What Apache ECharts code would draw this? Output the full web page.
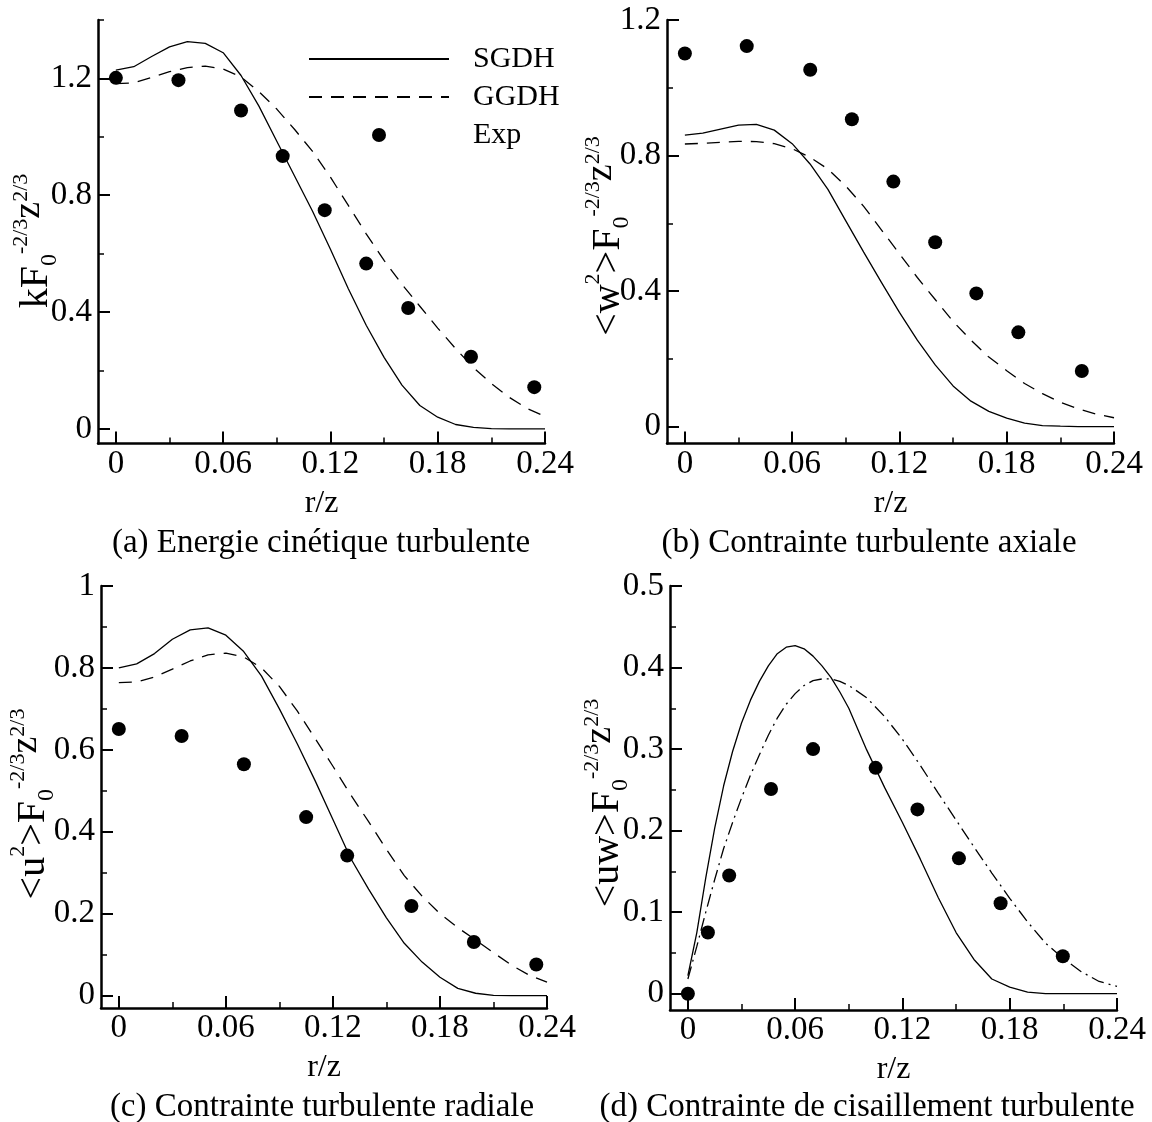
<!DOCTYPE html>
<html><head><meta charset="utf-8">
<script src="https://cdn.jsdelivr.net/npm/echarts@6/dist/echarts.min.js"></script>
<style>html,body{margin:0;padding:0;background:#fff}#c{width:1152px;height:1122px}</style>
</head><body><div id="c"></div>
<script>
const FONT = 'Liberation Serif';

// ---- tick values ----
const xTicks = [0, 0.06, 0.12, 0.18, 0.24];
const xMinor = [0.03, 0.09, 0.15, 0.21];
const yTicksA = [0, 0.4, 0.8, 1.2];
const yMinorA = [0.2, 0.6, 1.0, 1.4];
const yTicksB = [0, 0.4, 0.8, 1.2];
const yMinorB = [0.2, 0.6, 1.0];
const yTicksC = [0, 0.2, 0.4, 0.6, 0.8, 1];
const yMinorC = [0.1, 0.3, 0.5, 0.7, 0.9];
const yTicksD = [0, 0.1, 0.2, 0.3, 0.4, 0.5];
const yMinorD = [0.05, 0.15, 0.25, 0.35, 0.45];

// ---- data ----
const rCurve = [0, 0.01, 0.02, 0.03, 0.04, 0.05, 0.06, 0.07, 0.08, 0.09, 0.10, 0.11, 0.12,
                0.13, 0.14, 0.15, 0.16, 0.17, 0.18, 0.19, 0.20, 0.21, 0.22, 0.23, 0.24];

// (a) k
const kSGDH = [1.228, 1.24, 1.275, 1.308, 1.326, 1.32, 1.288, 1.21, 1.105, 0.985, 0.865, 0.745, 0.615,
               0.48, 0.355, 0.245, 0.15, 0.08, 0.04, 0.015, 0.005, 0.001, 0, 0, 0];
const kGGDH = [1.182, 1.185, 1.203, 1.223, 1.237, 1.242, 1.232, 1.205, 1.155, 1.095, 1.025, 0.95, 0.862,
               0.765, 0.668, 0.577, 0.495, 0.42, 0.345, 0.275, 0.21, 0.155, 0.108, 0.07, 0.043];
const kExpR = [0, 0.035, 0.070, 0.0933, 0.1168, 0.140, 0.1635, 0.1986, 0.234];
const kExp  = [1.202, 1.194, 1.090, 0.934, 0.749, 0.566, 0.414, 0.247, 0.143];

// (b) <w2>
const wSGDH = [0.86, 0.866, 0.878, 0.89, 0.892, 0.875, 0.835, 0.775, 0.70, 0.607, 0.515, 0.425, 0.337,
               0.255, 0.182, 0.12, 0.075, 0.045, 0.025, 0.01, 0.003, 0.001, 0, 0, 0];
const wGGDH = [0.834, 0.836, 0.839, 0.842, 0.841, 0.835, 0.82, 0.795, 0.76, 0.71, 0.65, 0.58, 0.51,
               0.44, 0.375, 0.31, 0.255, 0.205, 0.165, 0.127, 0.097, 0.072, 0.052, 0.037, 0.026];
const wExpR = [0, 0.0346, 0.0701, 0.0934, 0.1166, 0.140, 0.163, 0.1865, 0.222];
const wExp  = [1.101, 1.123, 1.053, 0.907, 0.723, 0.544, 0.393, 0.278, 0.164];

// (c) <u2>
const uSGDH = [0.80, 0.81, 0.835, 0.87, 0.893, 0.898, 0.88, 0.84, 0.78, 0.70, 0.615, 0.525, 0.43,
               0.335, 0.26, 0.19, 0.128, 0.082, 0.045, 0.018, 0.006, 0.001, 0, 0, 0];
const uGGDH = [0.764, 0.766, 0.778, 0.797, 0.817, 0.832, 0.836, 0.827, 0.80, 0.755, 0.695, 0.628, 0.56,
               0.49, 0.425, 0.357, 0.293, 0.243, 0.2, 0.166, 0.136, 0.105, 0.075, 0.05, 0.033];
const uExpR = [0, 0.0352, 0.0701, 0.105, 0.128, 0.164, 0.199, 0.234];
const uExp  = [0.651, 0.634, 0.565, 0.436, 0.342, 0.219, 0.131, 0.076];

// (d) <uw>
const rCurveD = [0, 0.005, 0.01, 0.015, 0.02, 0.025, 0.03, 0.035, 0.04, 0.045, 0.05, 0.055, 0.06,
                 0.065, 0.07, 0.075, 0.08, 0.085, 0.09, 0.10, 0.11, 0.12, 0.13, 0.14, 0.15, 0.16,
                 0.17, 0.18, 0.19, 0.20, 0.21, 0.22, 0.23, 0.24];
const uwSGDH = [0.022, 0.075, 0.142, 0.203, 0.255, 0.297, 0.332, 0.36, 0.383, 0.402, 0.417, 0.425, 0.427,
                0.423, 0.414, 0.402, 0.388, 0.37, 0.35, 0.299, 0.253, 0.21, 0.165, 0.118, 0.075, 0.042,
                0.018, 0.008, 0.002, 0, 0, 0, 0, 0];
const uwGGDH = [0.018, 0.058, 0.1, 0.14, 0.178, 0.21, 0.24, 0.268, 0.293, 0.317, 0.338, 0.355, 0.368,
                0.378, 0.384, 0.386, 0.386, 0.383, 0.378, 0.363, 0.34, 0.312, 0.28, 0.246, 0.213, 0.18,
                0.148, 0.117, 0.088, 0.062, 0.043, 0.027, 0.015, 0.009];
const uwExpR = [0, 0.0112, 0.0231, 0.0465, 0.07, 0.105, 0.1284, 0.1516, 0.1749, 0.2097];
const uwExp  = [0, 0.075, 0.145, 0.251, 0.300, 0.277, 0.226, 0.166, 0.111, 0.046];

const legendNames = ['SGDH', 'GGDH', 'Exp'];
const captions = ['(a) Energie cinétique turbulente', '(b) Contrainte turbulente axiale',
                  '(c) Contrainte turbulente radiale', '(d) Contrainte de cisaillement turbulente'];

// ---- layout ----
const grids = [
  {left: 98, top: 20, width: 447, height: 423.5},
  {left: 667, top: 20, width: 447, height: 423.5},
  {left: 101, top: 586, width: 446, height: 422},
  {left: 670, top: 586, width: 447, height: 424}
];
const yRanges = [[-0.05, 1.4], [-0.05, 1.2], [-0.03, 1], [-0.02, 0.5]];
const yMajor = [yTicksA, yTicksB, yTicksC, yTicksD];
const yMinor = [yMinorA, yMinorB, yMinorC, yMinorD];

const black = '#000';
const xAxis = [], yAxis = [];
grids.forEach((g, i) => {
  xAxis.push({
    gridIndex: i, type: 'value', position: 'bottom', min: -0.01, max: 0.24,
    axisLine: {show: true, onZero: false, lineStyle: {color: black, width: 2.5}},
    axisTick: {show: true, inside: true, length: 12, customValues: xTicks, lineStyle: {color: black, width: 2}},
    axisLabel: {customValues: xTicks, fontFamily: FONT, fontSize: 33, color: black, margin: 4,
                formatter: v => String(v)},
    splitLine: {show: false},
    name: 'r/z', nameLocation: 'middle', nameGap: 44,
    nameTextStyle: {fontFamily: FONT, fontSize: 32, color: black}
  });
  xAxis.push({
    gridIndex: i, type: 'value', position: 'bottom', min: -0.01, max: 0.24,
    axisLine: {show: false, onZero: false},
    axisTick: {show: true, inside: true, length: 6, customValues: xMinor, lineStyle: {color: black, width: 1.5}},
    axisLabel: {show: false}, splitLine: {show: false}
  });
  yAxis.push({
    gridIndex: i, type: 'value', position: 'left', min: yRanges[i][0], max: yRanges[i][1],
    axisLine: {show: true, onZero: false, lineStyle: {color: black, width: 2.5}},
    axisTick: {show: true, inside: true, length: 12, customValues: yMajor[i], lineStyle: {color: black, width: 2}},
    axisLabel: {customValues: yMajor[i], fontFamily: FONT, fontSize: 33, color: black, margin: 6,
                formatter: v => String(v)},
    splitLine: {show: false}
  });
  yAxis.push({
    gridIndex: i, type: 'value', position: 'left', min: yRanges[i][0], max: yRanges[i][1],
    axisLine: {show: false, onZero: false},
    axisTick: {show: true, inside: true, length: 6, customValues: yMinor[i], lineStyle: {color: black, width: 1.5}},
    axisLabel: {show: false}, splitLine: {show: false}
  });
});

const pairs = (xs, ys) => xs.map((x, k) => [x, ys[k]]);
const lineS = (name, gi, xs, ys, type) => ({
  name, type: 'line', xAxisIndex: 2 * gi, yAxisIndex: 2 * gi, data: pairs(xs, ys),
  symbol: 'none', showSymbol: false, smooth: false,
  lineStyle: {color: black, width: 1.3, type}, itemStyle: {color: black},
  animation: false, silent: true, z: 2
});
const expS = (gi, xs, ys) => ({
  name: 'Exp', type: 'scatter', xAxisIndex: 2 * gi, yAxisIndex: 2 * gi, data: pairs(xs, ys),
  symbol: 'circle', symbolSize: 14, itemStyle: {color: black, opacity: 1},
  animation: false, silent: true, z: 3
});
const DASH = [13, 9];
const DASHDOT = [13, 5, 2, 5];

const series = [
  lineS('SGDH', 0, rCurve, kSGDH, 'solid'),
  lineS('GGDH', 0, rCurve, kGGDH, DASH),
  expS(0, kExpR, kExp),
  lineS('SGDH', 1, rCurve, wSGDH, 'solid'),
  lineS('GGDH', 1, rCurve, wGGDH, DASH),
  expS(1, wExpR, wExp),
  lineS('SGDH', 2, rCurve, uSGDH, 'solid'),
  lineS('GGDH', 2, rCurve, uGGDH, DASH),
  expS(2, uExpR, uExp),
  lineS('SGDH', 3, rCurveD, uwSGDH, 'solid'),
  lineS('GGDH (d)', 3, rCurveD, uwGGDH, DASHDOT),
  expS(3, uwExpR, uwExp)
];

const rich = {
  b: {fontFamily: FONT, fontSize: 40, lineHeight: 52, verticalAlign: 'middle', color: black},
  sub: {fontFamily: FONT, fontSize: 24, lineHeight: 24, verticalAlign: 'bottom', color: black},
  sup: {fontFamily: FONT, fontSize: 22, lineHeight: 22, verticalAlign: 'top', color: black},
  z: {fontFamily: FONT, fontSize: 38, lineHeight: 44, verticalAlign: 'top', color: black}
};
const yNames = [
  '{b|kF}{sub|0}{sup|-2/3}{z|z}{sup|2/3}',
  '{b|<w}{sup|2}{b|>F}{sub|0}{sup|-2/3}{z|z}{sup|2/3}',
  '{b|<u}{sup|2}{b|>F}{sub|0}{sup|-2/3}{z|z}{sup|2/3}',
  '{b|<uw>F}{sub|0}{sup|-2/3}{z|z}{sup|2/3}'
];
const yNamePos = [[36, 241], [608, 236], [33, 804], [607, 803]];
const captionPos = [[321, 543], [869, 543], [322, 1107], [867, 1107]];

const graphic = [];
yNames.forEach((t, i) => graphic.push({
  type: 'text', x: yNamePos[i][0], y: yNamePos[i][1], rotation: Math.PI / 2, silent: true,
  style: {text: t, rich, align: 'center', verticalAlign: 'middle', fill: black}
}));
captions.forEach((t, i) => graphic.push({
  type: 'text', x: captionPos[i][0], y: captionPos[i][1], silent: true,
  style: {text: t, fontFamily: FONT, fontSize: 33, fill: black, align: 'center', verticalAlign: 'middle'}
}));

const chart = echarts.init(document.getElementById('c'), null, {renderer: 'canvas'});
chart.setOption({
  backgroundColor: '#fff',
  animation: false,
  grid: grids.map(g => Object.assign({containLabel: false}, g)),
  xAxis, yAxis, series, graphic,
  legend: {
    data: [
      {name: legendNames[0], itemStyle: {opacity: 0}},
      {name: legendNames[1], itemStyle: {opacity: 0}},
      {name: legendNames[2]}
    ],
    orient: 'vertical', left: 303, top: 39,
    itemWidth: 140, itemHeight: 14, itemGap: 8, selectedMode: false,
    textStyle: {fontFamily: FONT, fontSize: 30, color: black, padding: [0, 0, 0, 19]}
  }
});
</script>
</body></html>
